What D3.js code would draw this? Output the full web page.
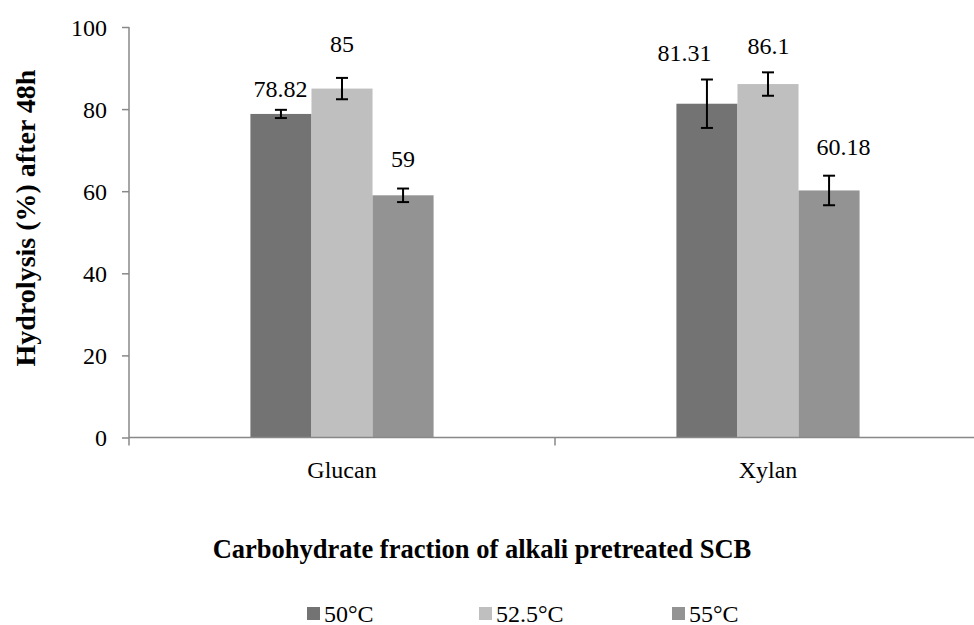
<!DOCTYPE html>
<html>
<head>
<meta charset="utf-8">
<script src="https://cdn.jsdelivr.net/npm/d3@7"></script>
<style>
  body { margin: 0; background: #fff; }
  svg { display: block; }
</style>
</head>
<body>
<svg id="chart" width="974" height="625" font-family="Liberation Serif, Times New Roman, serif"></svg>
<script>
// data
var categories = ['Glucan', 'Xylan'];
var seriesNames = ['50°C', '52.5°C', '55°C'];
var glucanValues = [78.82, 85, 59];
var xylanValues = [81.31, 86.1, 60.18];
var glucanErrors = [1.0, 2.6, 1.65];
var xylanErrors = [5.9, 2.85, 3.6];
var yTicks = [0, 20, 40, 60, 80, 100];

// label nudges (px), the labels were moved by hand in the original
var labelLift = [[13, 26, 21.5], [19, 18.5, 20.5]];
var labelShift = [[-0.5, 0, 0], [-22.5, 0.5, 14.5]];

var colors = ['#737373', '#bfbfbf', '#939393'];
var axisColor = '#888888';

var svg = d3.select('#chart');
var plotLeft = 129, plotRight = 981, plotTop = 27, plotBottom = 437.5;

var x0 = d3.scaleBand().domain(categories).range([plotLeft, plotRight]).paddingInner(0).paddingOuter(0);
// bars fill about 43% of each category band
var groupWidth = x0.bandwidth() * 0.43;
var x1 = d3.scaleBand().domain(seriesNames).range([-groupWidth / 2, groupWidth / 2]);
var y = d3.scaleLinear().domain([0, 100]).range([plotBottom, plotTop]);

var rows = categories.map(function(c, i) {
  var vals = i === 0 ? glucanValues : xylanValues;
  var errs = i === 0 ? glucanErrors : xylanErrors;
  return seriesNames.map(function(s, j) {
    return { cat: c, ci: i, series: s, si: j, value: vals[j], err: errs[j] };
  });
});
var bars = d3.merge(rows);

function cx(d) { return x0(d.cat) + x0.bandwidth() / 2 + x1(d.series) + x1.bandwidth() / 2; }

// bars
svg.append('g').selectAll('rect')
  .data(bars)
  .enter()
  .append('rect')
    .attr('x', function(d) { return x0(d.cat) + x0.bandwidth() / 2 + x1(d.series); })
    .attr('y', function(d) { return y(d.value); })
    .attr('width', x1.bandwidth())
    .attr('height', function(d) { return y(0) - y(d.value); })
    .attr('fill', function(d) { return colors[d.si]; });

// y axis
var yAxis = svg.append('g')
  .attr('transform', 'translate(' + plotLeft + ',0)')
  .call(d3.axisLeft(y).tickValues(yTicks).tickSize(7).tickPadding(15));
yAxis.attr('font-family', null).attr('font-size', null);
yAxis.select('.domain').attr('stroke', axisColor).attr('stroke-width', 1.5)
  .attr('d', 'M0,' + plotTop + 'V' + plotBottom);
yAxis.selectAll('line').attr('stroke', axisColor).attr('stroke-width', 1.5);
yAxis.selectAll('text')
  .attr('fill', '#000')
  .attr('font-size', '24px')
  .attr('dy', '0.34em');

// x axis, ticks sit between the categories
var xAxis = svg.append('g')
  .attr('transform', 'translate(0,' + plotBottom + ')');
xAxis.append('line')
  .attr('x1', plotLeft).attr('x2', plotRight)
  .attr('stroke', axisColor).attr('stroke-width', 1.5);
xAxis.selectAll('.tk')
  .data([plotLeft, x0('Xylan'), plotRight])
  .enter()
  .append('line')
    .attr('x1', function(d) { return d; })
    .attr('x2', function(d) { return d; })
    .attr('y1', 0).attr('y2', 8)
    .attr('stroke', axisColor).attr('stroke-width', 1.5);
xAxis.selectAll('.cat')
  .data(categories)
  .enter()
  .append('text')
    .attr('x', function(d) { return x0(d) + x0.bandwidth() / 2; })
    .attr('y', 40)
    .attr('text-anchor', 'middle')
    .attr('font-size', '24px')
    .text(function(d) { return d; });

// error bars
var eb = svg.append('g').attr('stroke', '#000').attr('stroke-width', 2);
bars.forEach(function(d) {
  var c = cx(d), t = y(d.value + d.err), b = y(d.value - d.err);
  eb.append('line').attr('x1', c).attr('x2', c).attr('y1', t).attr('y2', b);
  eb.append('line').attr('x1', c - 6).attr('x2', c + 6).attr('y1', t).attr('y2', t);
  eb.append('line').attr('x1', c - 6).attr('x2', c + 6).attr('y1', b).attr('y2', b);
});

// data labels
svg.append('g').selectAll('text')
  .data(bars)
  .enter()
  .append('text')
    .attr('x', function(d) { return cx(d) + labelShift[d.ci][d.si]; })
    .attr('y', function(d) { return y(d.value + d.err) - labelLift[d.ci][d.si]; })
    .attr('text-anchor', 'middle')
    .attr('font-size', '24px')
    .text(function(d) { return d.value; });

// axis titles
svg.append('text')
  .attr('transform', 'translate(35,218) rotate(-90)')
  .attr('text-anchor', 'middle')
  .attr('font-size', '28px')
  .attr('font-weight', 'bold')
  .text('Hydrolysis (%) after 48h');

svg.append('text')
  .attr('x', 482)
  .attr('y', 558)
  .attr('text-anchor', 'middle')
  .attr('font-size', '26.5px')
  .attr('font-weight', 'bold')
  .text('Carbohydrate fraction of alkali pretreated SCB');

// legend
var legendX = [307, 479, 672];
var legend = svg.append('g').selectAll('g')
  .data(seriesNames)
  .enter()
  .append('g')
    .attr('transform', function(d, i) { return 'translate(' + legendX[i] + ',607)'; });
legend.append('rect')
  .attr('width', 13).attr('height', 13)
  .attr('fill', function(d, i) { return colors[i]; });
legend.append('text')
  .attr('x', 17)
  .attr('y', 14.5)
  .attr('font-size', '24px')
  .text(function(d) { return d; });
</script>
</body>
</html>
